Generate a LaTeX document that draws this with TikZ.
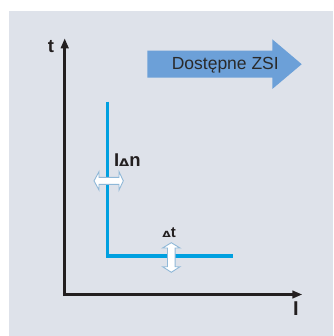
\documentclass[tikz,border=0pt]{standalone}
\usepackage{graphicx}
\usepackage{fontspec}
\setmainfont{Liberation Sans}
\newfontfamily\deltafont{DejaVu Sans}
\usetikzlibrary{arrows.meta}
\definecolor{panel}{HTML}{DEE2EA}
\definecolor{axisdark}{HTML}{231F20}
\definecolor{curve}{HTML}{00A0E0}
\definecolor{bigarrow}{HTML}{6CA0D8}
\definecolor{knob}{HTML}{8FB8D8}
\definecolor{labeltext}{HTML}{2A2A2A}
\tikzset{
  axis/.style={draw=axisdark, line width=3.5pt, -{Triangle[length=10pt,width=7.5pt]}},
  curveline/.style={draw=curve, line width=3.4pt},
  knobarrow/.style={fill=white, draw=knob, line width=0.9pt, line join=miter},
  lbl/.style={inner sep=0pt, anchor=base west, text=axisdark},
}
\begin{document}
\begin{tikzpicture}[x=1pt, y=-1pt]
  \useasboundingbox (0,0) rectangle (333,336);
  % panel background
  \fill[panel] (9,11) rectangle (333,336);

  % banner arrow
  \fill[bigarrow] (147.3,50.7) -- (272.3,50.7) -- (272.3,39.3) -- (301.7,64.2)
    -- (272.3,89) -- (272.3,77.7) -- (147.3,77.7) -- cycle;
  \node[lbl, text=labeltext, font=\fontsize{17.5}{20}\selectfont] (zsi) at (171.6,70) {Dostępne ZSI};

  % axes
  \coordinate (o) at (64.7,294.5);
  \coordinate (ttip) at (64.7,38.3);
  \coordinate (itip) at (302.3,294.5);
  \draw[axis] (64.7,296.2) -- (ttip);
  \draw[axis] (62.95,294.5) -- (itip);
  \node[lbl, font=\bfseries\fontsize{18.5}{20}\selectfont] (tlab) at (47.6,52.3) {t};
  \node[lbl, font=\bfseries\fontsize{20}{22}\selectfont] (ilab) at (292.8,315.7) {I};

  % tripping characteristic
  \coordinate (c1) at (107.7,101.7);
  \coordinate (c2) at (107.7,256);
  \coordinate (c3) at (233.3,256);
  \draw[curveline, line join=miter] (c1) -- (c2) -- (c3);

  % current setting adjuster
  \path[knobarrow] (94,180.85) -- (99,171.7) -- (99,177.35) -- (119,177.35) -- (119,171.7)
    -- (123.3,180.85) -- (119,190) -- (119,184.35) -- (99,184.35) -- (99,190) -- cycle;
  \node[lbl, font=\bfseries\fontsize{18.5}{20}\selectfont] (ian) at (113.8,166.7)
    {I\scalebox{1.25}[1]{\deltafont\bfseries\fontsize{10.5}{12}\selectfont Δ}n};

  % time delay adjuster
  \path[knobarrow] (171.3,242.7) -- (180,248) -- (175.15,248) -- (175.15,266.7) -- (180,266.7)
    -- (171.3,272.3) -- (162.6,266.7) -- (167.45,266.7) -- (167.45,248) -- (162.6,248) -- cycle;
  \node[lbl, font=\bfseries\fontsize{15}{16}\selectfont] (dt) at (162.2,237.7)
    {\scalebox{1.3}[1]{\deltafont\bfseries\fontsize{8.5}{10}\selectfont Δ}t};
\end{tikzpicture}
\end{document}
